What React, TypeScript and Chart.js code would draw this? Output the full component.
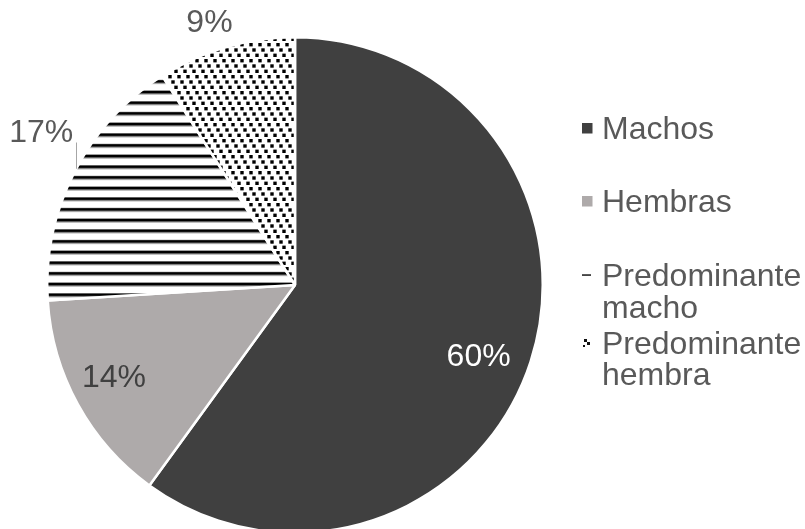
import React, { useEffect, useRef } from "react";
import { Chart, registerables } from "chart.js";

Chart.register(...registerables);

// Composition of the group by sex
const categories = ["Machos", "Hembras", "Predominante macho", "Predominante hembra"];
const shares = [60, 14, 17, 9];
// Legend text, wrapped as it is shown
const legendLines = [["Machos"], ["Hembras"], ["Predominante", "macho"], ["Predominante", "hembra"]];

const W = 805;
const H = 545;
const FONT = '"Liberation Sans", Arial, Helvetica, sans-serif';
const TEXT_GREY = "#595959";

function tile(w: number, h: number, paint: (c: CanvasRenderingContext2D) => void) {
  const c = document.createElement("canvas");
  c.width = w;
  c.height = h;
  const g = c.getContext("2d")!;
  g.fillStyle = "#ffffff";
  g.fillRect(0, 0, w, h);
  g.fillStyle = "#000000";
  paint(g);
  return c;
}

function makePattern(ctx: CanvasRenderingContext2D, c: HTMLCanvasElement, scale: number) {
  const p = ctx.createPattern(c, "repeat")!;
  if (scale !== 1) p.setTransform(new DOMMatrix().scale(scale));
  return p;
}

export default function App() {
  const ref = useRef<HTMLCanvasElement>(null);

  useEffect(() => {
    const canvas = ref.current!;
    const ctx = canvas.getContext("2d")!;
    // horizontal rules, ~10.7px apart
    const stripes = makePattern(
      ctx,
      tile(8, 8, (g) => g.fillRect(0, 4, 8, 2.4)),
      4 / 3
    );
    // staggered square dots running in diagonals
    const dots = makePattern(
      ctx,
      tile(9, 16, (g) => {
        const s = 3.4;
        g.fillRect(0.3, 0.3, s, s);
        g.fillRect(3.3, 5.6, s, s);
        g.fillRect(6.3, 11, s, s);
        g.fillRect(-2.7, 11, s, s);
      }),
      1
    );
    const fills: (string | CanvasPattern)[] = ["#404040", "#aeaaaa", stripes, dots];

    // Percentage labels placed around each slice
    const labelPlacement = [
      { r: 0.795, da: 3.2, color: "#ffffff" },
      { r: 0.82, da: 1.8, color: "#404040" },
      { r: 1.195, da: 4, color: TEXT_GREY },
      { r: 1.117, da: -1.8, color: TEXT_GREY },
    ];

    const labelsPlugin = {
      id: "sliceLabels",
      afterDatasetsDraw(chart: any) {
        const c = chart.ctx as CanvasRenderingContext2D;
        const meta = chart.getDatasetMeta(0);
        c.save();
        c.font = `32px ${FONT}`;
        c.textAlign = "center";
        c.textBaseline = "middle";
        meta.data.forEach((arc: any, i: number) => {
          const { x, y, startAngle, endAngle, outerRadius } = arc.getProps(
            ["x", "y", "startAngle", "endAngle", "outerRadius"],
            true
          );
          const pl = labelPlacement[i];
          const a = (startAngle + endAngle) / 2 + (pl.da * Math.PI) / 180;
          const lx = x + Math.cos(a) * outerRadius * pl.r;
          const ly = y + Math.sin(a) * outerRadius * pl.r;
          c.fillStyle = pl.color;
          c.fillText(`${shares[i]}%`, lx, ly + 1);
          if (i === 2) {
            // leader line down to the striped slice
            const lineX = lx + 35;
            const dy = Math.sqrt(outerRadius * outerRadius - (lineX - x) * (lineX - x));
            c.strokeStyle = "#a6a6a6";
            c.lineWidth = 1;
            c.beginPath();
            c.moveTo(Math.round(lineX) + 0.5, ly + 10);
            c.lineTo(Math.round(lineX) + 0.5, y - dy);
            c.stroke();
          }
        });
        c.restore();
      },
    };

    const legendPlugin = {
      id: "sideLegend",
      afterDraw(chart: any) {
        const c = chart.ctx as CanvasRenderingContext2D;
        const baselines = [[139], [212], [286, 318], [354, 385]];
        const textX = 602;
        const markX = 582;
        c.save();
        c.font = `32px ${FONT}`;
        c.textAlign = "left";
        c.textBaseline = "alphabetic";
        legendLines.forEach((lines, i) => {
          const my = baselines[i][0] - 11;
          if (i < 2) {
            c.fillStyle = fills[i] as string;
            c.fillRect(markX, my - 5, 10.5, 10.5);
          } else if (i === 2) {
            c.fillStyle = "#262626";
            c.fillRect(markX, my - 0.75, 9, 1.6);
          } else {
            c.fillStyle = "#111111";
            c.fillRect(markX + 2, my - 4, 3, 3);
            c.fillRect(markX + 5, my - 1, 3, 3);
            c.fillRect(markX + 1, my + 2, 2, 2);
          }
          c.fillStyle = TEXT_GREY;
          lines.forEach((t, j) => c.fillText(t, textX, baselines[i][j]));
        });
        c.restore();
      },
    };

    const chart = new Chart(canvas, {
      type: "pie",
      data: {
        labels: categories,
        datasets: [
          {
            data: shares,
            backgroundColor: fills as any,
            borderColor: "#ffffff",
            borderWidth: 2.5,
          },
        ],
      },
      options: {
        responsive: false,
        animation: false,
        events: [],
        layout: { padding: { left: 46, top: 36, right: W - 544, bottom: H - 534 } },
        plugins: {
          legend: { display: false },
          tooltip: { enabled: false },
        },
      },
      plugins: [labelsPlugin, legendPlugin],
    });
    return () => chart.destroy();
  }, []);

  return (
    <div style={{ position: "fixed", left: 0, top: 0, width: W, height: 529, overflow: "hidden", background: "#fff" }}>
      <canvas ref={ref} width={W} height={H} style={{ display: "block", width: W, height: H }} />
    </div>
  );
}
